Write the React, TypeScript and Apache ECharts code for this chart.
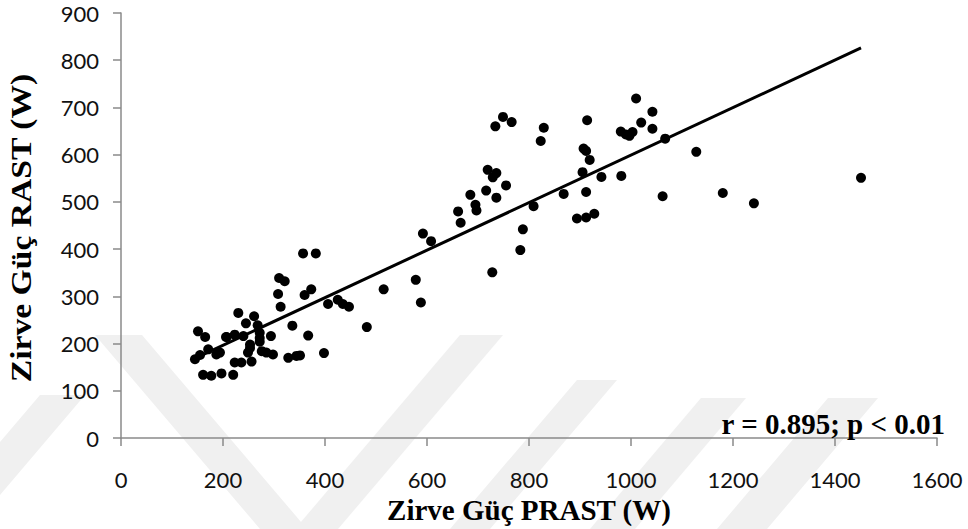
import React, { useEffect, useRef } from "react";
import * as echarts from "echarts";

const prastW = [
  1010, 1042, 1020, 1042, 980, 990, 997, 1003, 1067, 1128,
  914, 907, 912, 919, 905, 942, 981, 912, 1062, 894,
  912, 928, 868, 809, 788, 783, 728, 734, 749, 766,
  829, 823, 719, 736, 729, 755, 716, 736, 685, 695,
  697, 661, 666, 1180, 1241, 1451, 592, 608, 357, 382,
  373, 360, 406, 425, 435, 447, 515, 578, 588, 482,
  367, 398, 351, 310, 321, 308, 313, 230, 261, 245,
  268, 336, 294, 207, 223, 240, 272, 272, 272, 253,
  249, 276, 285, 298, 328, 344, 223, 236, 256, 194,
  151, 165, 145, 155, 171, 187, 161, 177, 197, 220,
  206, 253,
];
const rastW = [
  719, 691, 668, 655, 649, 643, 640, 648, 634, 606,
  673, 613, 608, 589, 563, 553, 555, 521, 512, 465,
  467, 475, 517, 491, 442, 398, 351, 660, 680, 669,
  657, 629, 568, 561, 552, 535, 524, 509, 515, 494,
  482, 480, 456, 519, 497, 551, 433, 417, 391, 391,
  315, 303, 284, 293, 284, 278, 315, 335, 287, 235,
  217, 180, 175, 339, 332, 305, 278, 265, 258, 243,
  239, 238, 216, 214, 219, 216, 223, 212, 204, 198,
  181, 184, 181, 177, 170, 174, 160, 160, 162, 181,
  226, 214, 167, 176, 188, 177, 134, 132, 137, 134,
  214, 191,
];
const trendX = [145, 1451];
const trendY = [169, 826];
const xTicks = [0, 1600, 200];
const yTicks = [0, 900, 100];
const xName = "Zirve Güç PRAST (W)";
const yName = "Zirve Güç RAST (W)";
const statText = "r = 0.895; p < 0.01";

const serif = '"Liberation Serif", "Times New Roman", serif';
const sans = 'Lato, "Open Sans", sans-serif';
const axisGray = "#8a8a8a";
const wmColor = "#f0f0f0";

const band = (pts: number[][]) => ({
  type: "polygon",
  silent: true,
  z: -10,
  shape: { points: pts },
  style: { fill: wmColor },
});

export default function App() {
  const ref = useRef<HTMLDivElement>(null);
  useEffect(() => {
    if (!ref.current) return;
    const chart = echarts.init(ref.current, null, { renderer: "svg" });
    const points = prastW.map((x, i) => [x, rastW[i]]);
    chart.setOption({
      animation: false,
      backgroundColor: "#ffffff",
      grid: { left: 121, right: 31, top: 13, bottom: 88, containLabel: false },
      xAxis: {
        type: "value",
        min: xTicks[0],
        max: xTicks[1],
        interval: xTicks[2],
        z: 5,
        name: xName,
        nameLocation: "middle",
        nameGap: 46,
        nameTextStyle: { fontFamily: serif, fontWeight: "bold", fontSize: 29, color: "#000" },
        axisLine: { show: true, lineStyle: { color: axisGray, width: 1.5 } },
        axisTick: { show: true, inside: false, length: 8, lineStyle: { color: axisGray, width: 1.5 } },
        axisLabel: { margin: 30, fontFamily: sans, fontSize: 22, color: "#111", formatter: (v: number) => String(v) },
        splitLine: { show: false },
      },
      yAxis: {
        type: "value",
        min: yTicks[0],
        max: yTicks[1],
        interval: yTicks[2],
        z: 5,
        axisLine: { show: true, lineStyle: { color: axisGray, width: 1.5 } },
        axisTick: { show: true, inside: false, length: 8, lineStyle: { color: axisGray, width: 1.5 } },
        axisLabel: { margin: 22, fontFamily: sans, fontSize: 22, color: "#111", formatter: (v: number) => String(v) },
        splitLine: { show: false },
      },
      graphic: [
        band([[40, 395], [85, 395], [-29, 529], [-74, 529]]),
        band([[95, 335], [142, 335], [307, 529], [260, 529]]),
        band([[460, 335], [503, 335], [338, 529], [295, 529]]),
        band([[577, 380], [617, 380], [490, 529], [450, 529]]),
        band([[701, 398], [746, 398], [635, 529], [590, 529]]),
        band([[828, 398], [878, 398], [767, 529], [717, 529]]),
        {
          type: "text",
          z: 20,
          x: 21,
          y: 228,
          rotation: Math.PI / 2,
          scaleX: 1.16,
          style: {
            text: yName,
            fill: "#000",
            font: `bold 29px ${serif}`,
            textAlign: "center",
            textVerticalAlign: "middle",
          },
        },
        {
          type: "text",
          z: 20,
          x: 945,
          y: 438,
          style: {
            text: statText,
            fill: "#000",
            font: `bold 29px ${serif}`,
            textAlign: "right",
            textVerticalAlign: "bottom",
          },
        },
      ],
      series: [
        {
          type: "line",
          z: 8,
          data: trendX.map((x, i) => [x, trendY[i]]),
          symbol: "none",
          lineStyle: { color: "#000", width: 3 },
          silent: true,
        },
        {
          type: "scatter",
          z: 10,
          data: points,
          symbol: "circle",
          symbolSize: 10,
          itemStyle: { color: "#000", opacity: 1 },
        },
      ],
    });
    return () => chart.dispose();
  }, []);
  return <div ref={ref} style={{ width: 968, height: 529, position: "absolute", left: 0, top: 0 }} />;
}
